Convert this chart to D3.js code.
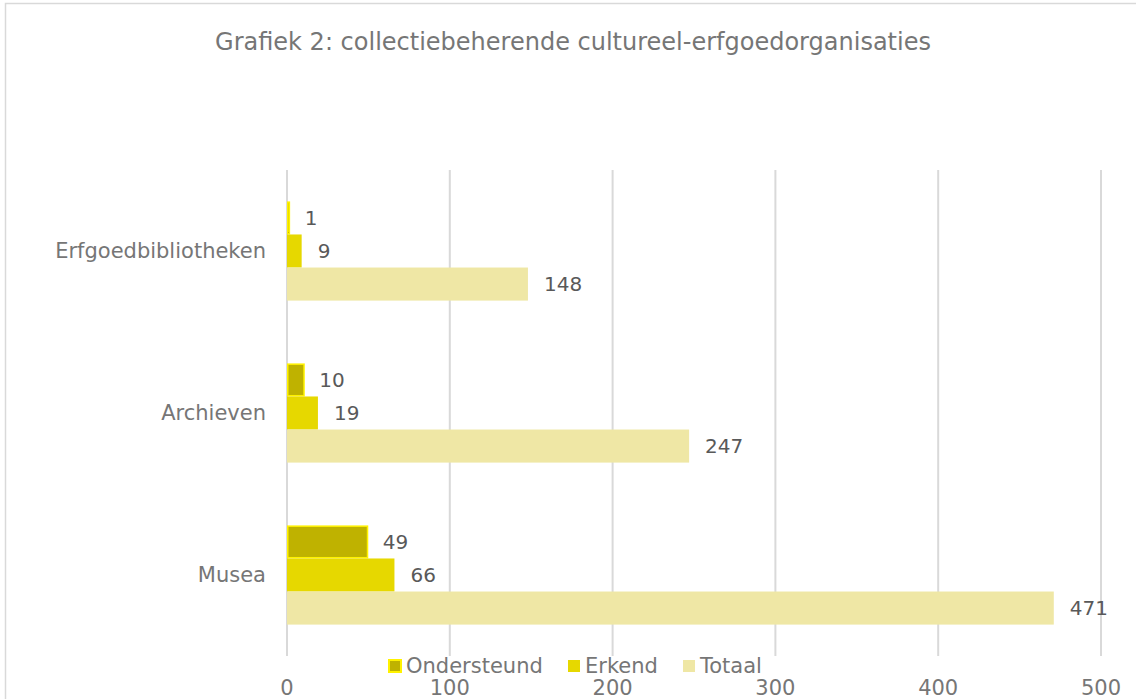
<!DOCTYPE html>
<html>
<head>
<meta charset="utf-8">
<script src="https://cdn.jsdelivr.net/npm/d3@7"></script>
<style>
  body { margin: 0; background: #fff; }
  svg text { font-family: "DejaVu Sans", Verdana, sans-serif; }
</style>
</head>
<body>
<svg id="chart"></svg>
<script>
let categories = ['Erfgoedbibliotheken', 'Archieven', 'Musea'];
let series = ['Ondersteund', 'Erkend', 'Totaal'];
let ondersteund = [1, 10, 49];
let erkend = [9, 19, 66];
let totaal = [148, 247, 471];
let xTicks = [0, 100, 200, 300, 400, 500];
let title = 'Grafiek 2: collectiebeherende cultureel-erfgoedorganisaties';

let seriesValues = [ondersteund, erkend, totaal];
let seriesFill = ['#BFB200', '#E6D800', '#EFE7A5'];
let seriesStroke = ['#FFF200', 'none', 'none'];

let width = 1136;
let height = 699;
let margin = {top: 170, right: 35, bottom: 43, left: 287};

let svg = d3.select('#chart')
    .attr('width', width)
    .attr('height', height);

// outer border
svg.append('rect')
    .attr('x', 5.5).attr('y', 3.5)
    .attr('width', width).attr('height', height)
    .attr('fill', '#fff')
    .attr('stroke', '#d9d9d9')
    .attr('stroke-width', 1.5);

svg.append('text')
    .attr('x', 573)
    .attr('y', 50)
    .attr('text-anchor', 'middle')
    .attr('font-size', 24)
    .attr('fill', '#767676')
    .text(title);

let x = d3.scaleLinear()
    .domain([0, 500])
    .range([margin.left, width - margin.right]);

let y = d3.scaleBand()
    .domain(categories)
    .range([margin.top, height - margin.bottom]);

let yInner = d3.scaleBand()
    .domain(series)
    .range([0, y.bandwidth()])
    .paddingOuter(0.95);

// gridlines
svg.append('g')
    .selectAll('line')
    .data(xTicks)
    .join('line')
    .attr('x1', d => x(d)).attr('x2', d => x(d))
    .attr('y1', margin.top).attr('y2', height - margin.bottom)
    .attr('stroke', '#d9d9d9')
    .attr('stroke-width', 2);

// x tick labels
svg.append('g')
    .selectAll('text')
    .data(xTicks)
    .join('text')
    .attr('x', d => x(d))
    .attr('y', 695)
    .attr('text-anchor', 'middle')
    .attr('font-size', 21)
    .attr('fill', '#767676')
    .text(d => d);

// category labels
svg.append('g')
    .selectAll('text')
    .data(categories)
    .join('text')
    .attr('x', margin.left - 21)
    .attr('y', d => y(d) + y.bandwidth() / 2)
    .attr('dy', '0.35em')
    .attr('text-anchor', 'end')
    .attr('font-size', 21)
    .attr('fill', '#767676')
    .text(d => d);

let rows = [];
categories.forEach((c, i) => {
    series.forEach((s, j) => {
        rows.push({cat: c, ser: s, si: j, value: seriesValues[j][i]});
    });
});

let bars = svg.append('g');

bars.selectAll('rect')
    .data(rows)
    .join('rect')
    .attr('x', d => x(0) + (d.si === 0 ? 0.75 : 0))
    .attr('y', d => y(d.cat) + yInner(d.ser) + (d.si === 0 ? 0.75 : 0))
    .attr('width', d => x(d.value) - x(0))
    .attr('height', d => yInner.bandwidth() - (d.si === 0 ? 1.5 : 0))
    .attr('fill', d => seriesFill[d.si])
    .attr('stroke', d => seriesStroke[d.si])
    .attr('stroke-width', 1.5);

bars.selectAll('text')
    .data(rows)
    .join('text')
    .attr('x', d => x(d.value) + 16)
    .attr('y', d => y(d.cat) + yInner(d.ser) + yInner.bandwidth() / 2)
    .attr('dy', '0.35em')
    .attr('font-size', 20)
    .attr('fill', '#595959')
    .text(d => d.value);

// legend
let legendX = [389, 568, 683];
let legend = svg.append('g')
    .selectAll('g')
    .data(series)
    .join('g')
    .attr('transform', (d, i) => `translate(${legendX[i]},666)`);

legend.append('rect')
    .attr('x', 0).attr('y', -6)
    .attr('width', 12).attr('height', 12)
    .attr('fill', (d, i) => seriesFill[i])
    .attr('stroke', (d, i) => seriesStroke[i])
    .attr('stroke-width', 2);

legend.append('text')
    .attr('x', 17)
    .attr('y', 0)
    .attr('dy', '0.35em')
    .attr('font-size', 21)
    .attr('fill', '#767676')
    .text(d => d);
</script>
</body>
</html>
